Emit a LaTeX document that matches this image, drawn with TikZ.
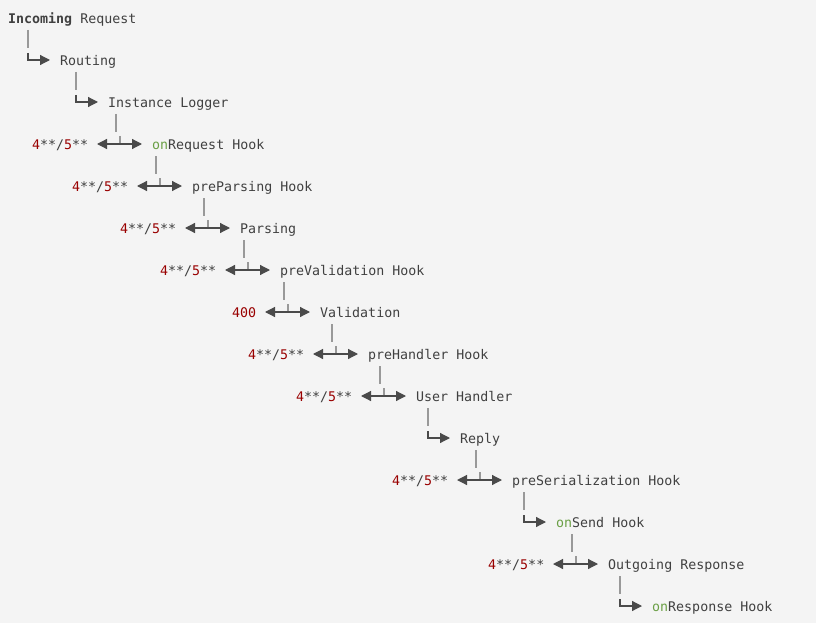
\documentclass[tikz,border=0pt]{standalone}
\usepackage{fontspec}
\setmonofont{DejaVu Sans Mono}
\usetikzlibrary{arrows.meta,calc}
\definecolor{bg}{HTML}{F4F4F4}
\definecolor{txt}{HTML}{404040}
\definecolor{errred}{HTML}{990000}
\definecolor{ongreen}{HTML}{6A9F45}
\definecolor{barc}{HTML}{999999}
\definecolor{arrc}{HTML}{4A4A4A}
\newcommand\errcode{\textcolor{errred}{4}**/\textcolor{errred}{5}**}
\newcommand\onword{\textcolor{ongreen}{on}}
% elbow row: id, x, y, text
\newcommand\elbowrow[4]{%
  \coordinate (j#1) at (#2,#3);
  \draw[barline] ($(j#1)+(0,-30)$) -- ($(j#1)+(0,-12)$);
  \draw[connline,-{Triangle[length=10pt,width=10pt]}] ($(j#1)+(0,-7)$) -- (j#1) -- ($(j#1)+(22,0)$);
  \node[lbl] (t#1) at ($(j#1)+(32,5.5)$) {#4};}
% branch row: id, x, y, left label, left offset, text
\newcommand\branchrow[6]{%
  \coordinate (j#1) at (#2,#3);
  \draw[barline] ($(j#1)+(0,-30)$) -- ($(j#1)+(0,-12)$);
  \draw[tickline] ($(j#1)+(4,-8)$) -- ($(j#1)+(4,0)$);
  \draw[connline,{Triangle[length=10pt,width=10pt]}-{Triangle[length=10pt,width=10pt]}] ($(j#1)+(-19,0)$) -- ($(j#1)+(26,0)$);
  \node[lbl] (e#1) at ($(j#1)+(#5,5.5)$) {#4};
  \node[lbl] (t#1) at ($(j#1)+(36,5.5)$) {#6};}
\begin{document}
\begin{tikzpicture}[x=1pt,y=-1pt,
  lbl/.style={anchor=base west,inner sep=0pt,text=txt,font=\ttfamily\fontsize{13.3}{16}\selectfont},
  barline/.style={draw=barc,line width=1.3pt},
  tickline/.style={draw=barc,line width=1.2pt},
  connline/.style={draw=arrc,line width=1.2pt}]
\fill[bg] (0,0) rectangle (816,623);
\useasboundingbox (0,0) rectangle (816,623);
\node[lbl] (t0) at (8,23.5) {\textbf{Incoming} Request};
\elbowrow{1}{28}{60}{Routing}
\elbowrow{2}{76}{102}{Instance Logger}
\branchrow{3}{116}{144}{\errcode}{-84}{\onword Request Hook}
\branchrow{4}{156}{186}{\errcode}{-84}{preParsing Hook}
\branchrow{5}{204}{228}{\errcode}{-84}{Parsing}
\branchrow{6}{244}{270}{\errcode}{-84}{preValidation Hook}
\branchrow{7}{284}{312}{\textcolor{errred}{400}}{-52}{Validation}
\branchrow{8}{332}{354}{\errcode}{-84}{preHandler Hook}
\branchrow{9}{380}{396}{\errcode}{-84}{User Handler}
\elbowrow{10}{428}{438}{Reply}
\branchrow{11}{476}{480}{\errcode}{-84}{preSerialization Hook}
\elbowrow{12}{524}{522}{\onword Send Hook}
\branchrow{13}{572}{564}{\errcode}{-84}{Outgoing Response}
\elbowrow{14}{620}{606}{\onword Response Hook}
\end{tikzpicture}
\end{document}
